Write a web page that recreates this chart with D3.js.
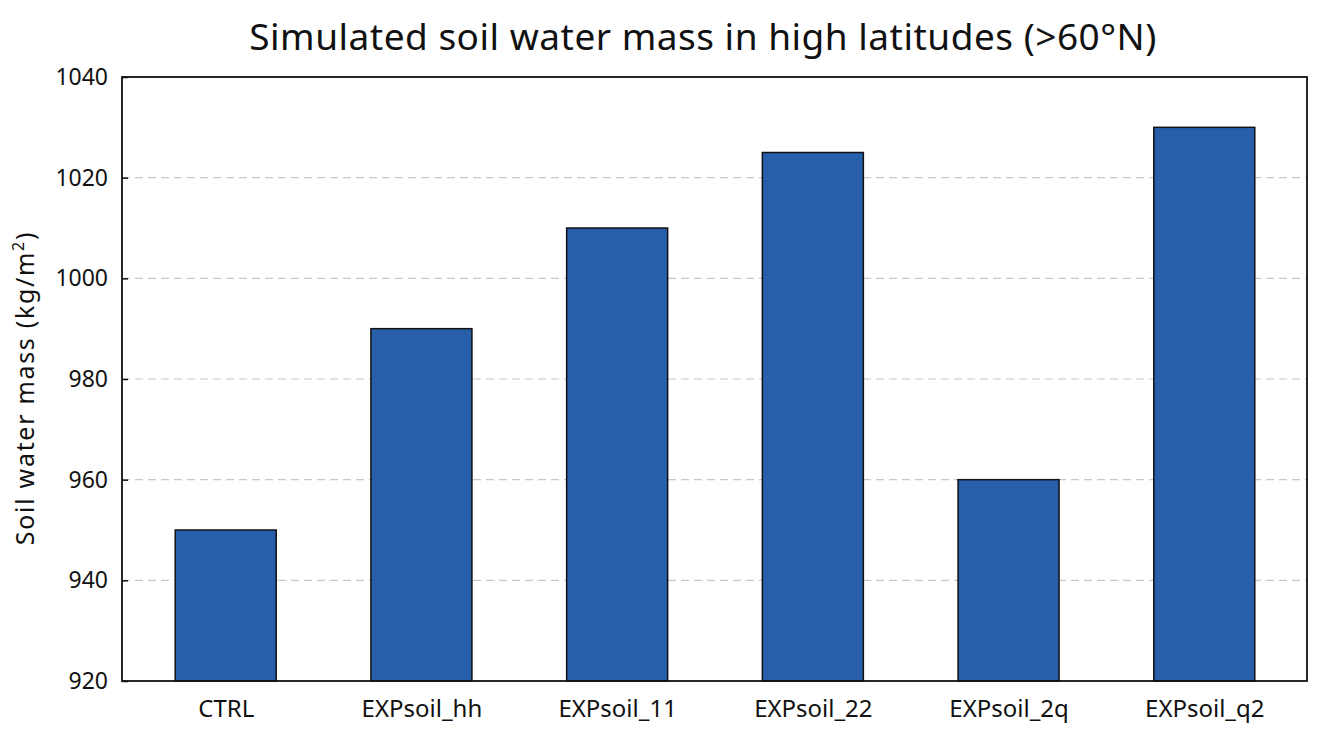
<!DOCTYPE html>
<html><head><meta charset="utf-8">
<script src="https://cdn.jsdelivr.net/npm/d3@7"></script>
<style>body{margin:0;background:#fff;}svg{display:block;font-family:"Noto Sans","Open Sans",sans-serif;}</style>
</head><body>
<svg id="c" width="1327" height="739"></svg>
<script>
const categories = ["CTRL","EXPsoil_hh","EXPsoil_11","EXPsoil_22","EXPsoil_2q","EXPsoil_q2"];
const values = [950, 990, 1010, 1025, 960, 1030];
const yTicks = [920, 940, 960, 980, 1000, 1020, 1040];
const gridTicks = [940, 960, 980, 1000, 1020];

const svg = d3.select("#c");
const m = {l:122, r:1307, t:77, b:681};
const x = d3.scalePoint().domain(categories).range([m.l, m.r + 1]).padding(0.53);
const y = d3.scaleLinear().domain([920, 1040]).range([m.b, m.t]);
const bw = 101;

svg.append("g").selectAll("line").data(gridTicks).join("line")
  .attr("x1", m.l).attr("x2", m.r).attr("y1", d=>y(d)).attr("y2", d=>y(d))
  .attr("stroke", "#c8c8c8").attr("stroke-width", 1.2).attr("stroke-dasharray", "8,5");

svg.append("g").selectAll("rect").data(values).join("rect")
  .attr("x", (d,i)=>x(categories[i]) - bw/2).attr("width", bw)
  .attr("y", d=>y(d)).attr("height", d=>y(920)-y(d))
  .attr("fill", "#285fab").attr("stroke", "#111").attr("stroke-width", 1.5);

svg.append("rect").attr("x", m.l).attr("y", m.t).attr("width", m.r-m.l).attr("height", m.b-m.t)
  .attr("fill","none").attr("stroke","#111").attr("stroke-width",1.8);

const ya = svg.append("g").attr("transform", `translate(${m.l},0)`)
  .call(d3.axisLeft(y).tickValues(yTicks).tickSize(-6).tickPadding(14).tickFormat(d3.format("d")));
ya.select(".domain").remove();
ya.selectAll("line").attr("stroke","#111").attr("stroke-width",1.5);
ya.selectAll("text").attr("font-size", 23).attr("fill","#111").attr("font-family","'Noto Sans',sans-serif");

const xa = svg.append("g").attr("transform", `translate(0,${m.b})`)
  .call(d3.axisBottom(x).tickSize(0).tickPadding(19));
xa.select(".domain").remove();
xa.selectAll("text").attr("font-size", 24).attr("fill","#111").attr("font-family","'Noto Sans',sans-serif");

svg.append("text").attr("x", 703).attr("y", 50).attr("text-anchor","middle")
  .attr("font-size", 37).attr("letter-spacing", 0.5).attr("fill","#111")
  .text("Simulated soil water mass in high latitudes (>60°N)");

const yl = svg.append("text").attr("transform","translate(34,388) rotate(-90)").attr("text-anchor","middle")
  .attr("font-size", 25).attr("letter-spacing", 1.7).attr("fill","#111");
yl.append("tspan").text("Soil water mass (kg/m");
yl.append("tspan").attr("font-size", 16).attr("dy", -10).text("2");
yl.append("tspan").attr("dy", 10).text(")");
</script>
</body></html>
